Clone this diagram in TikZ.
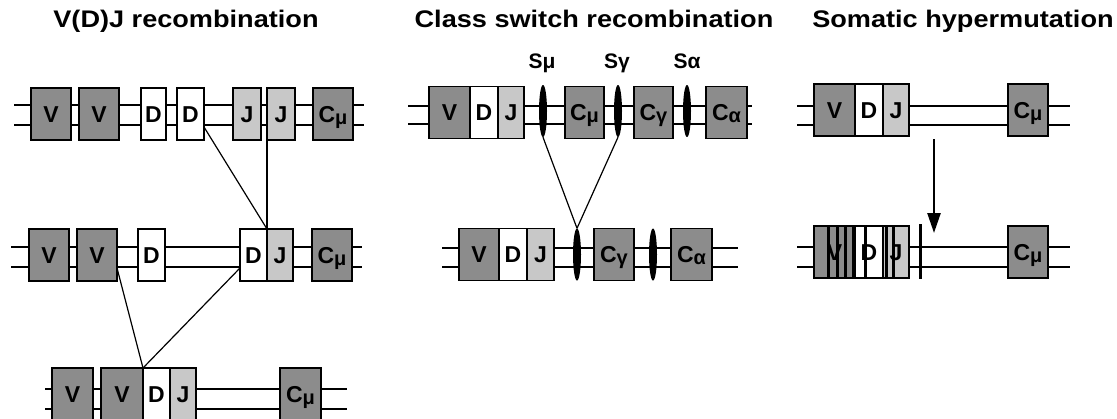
\documentclass[tikz,border=0pt]{standalone}
\usepackage{fontspec}
\setmainfont{Liberation Sans}
\usepackage{tikz}
\usetikzlibrary{positioning,arrows.meta,shapes.geometric}
\definecolor{SegDark}{RGB}{140,140,140}
\definecolor{SegLight}{RGB}{200,200,200}
\newcommand{\gsub}[1]{\raisebox{-2pt}{\fontsize{20}{20}\selectfont #1}}

\begin{document}
\begin{tikzpicture}[x=1pt,y=-1pt,
	seg/.style={draw=black,line width=1.6pt,minimum height=52pt,inner sep=0pt,outer sep=0pt,
		text height=16.5pt,text depth=0pt,font=\fontsize{23}{25}\selectfont\bfseries},
	vseg/.style={seg,fill=SegDark,minimum width=40pt},
	cseg/.style={seg,fill=SegDark,minimum width=40pt},
	dseg/.style={seg,fill=white,minimum width=27pt},
	jseg/.style={seg,fill=SegLight,minimum width=26pt},
	switch/.style={ellipse,fill=black,inner sep=0pt,minimum width=8pt,minimum height=52pt},
	dna/.style={line width=1.6pt},
	joint/.style={line width=1.2pt},
	title/.style={anchor=base,font=\fontsize{24}{26}\selectfont\bfseries},
	slabel/.style={anchor=base,font=\fontsize{21}{23}\selectfont\bfseries}
	]
	\useasboundingbox (0,0) rectangle (1117,418);
	
	% titles
	\node[title] (tvdj) at (186,27) {\scalebox{1.13}[1]{V(D)J recombination}};
	\node[title] (tcsr) at (594,27) {\scalebox{1.13}[1]{Class switch recombination}};
	\node[title] (tshm) at (963,27) {\scalebox{1.13}[1]{Somatic hypermutation}};
	
	% V(D)J recombination
	\draw[dna] (14,105) -- (364,105) (14,125) -- (364,125);
	\node[vseg] (v1a) at (51,114) {V};
	\node[vseg] (v1b) at (99,114) {V};
	\node[dseg,minimum width=25pt] (d1a) at (153.5,114) {D};
	\node[dseg] (d1b) at (190.5,114) {D};
	\node[jseg,minimum width=28pt] (j1a) at (247,114) {J};
	\node[jseg,minimum width=28pt] (j1b) at (281,114) {J};
	\node[cseg] (c1) at (333,114) {C\gsub{μ}};
	
	\draw[dna] (11,247) -- (362,247) (11,267) -- (362,267);
	\node[vseg] (v2a) at (49,255) {V};
	\node[vseg] (v2b) at (97,255) {V};
	\node[dseg] (d2a) at (151.5,255) {D};
	\node[dseg] (d2b) at (253.5,255) {D};
	\node[jseg] (j2) [right=0pt of d2b] {J};
	\node[cseg] (c2) at (332,255) {C\gsub{μ}};
	
	\draw[dna] (45,389) -- (347,389) (45,409) -- (347,409);
	\node[vseg,minimum width=41pt] (v3a) at (72.5,394) {V};
	\node[vseg,minimum width=42pt] (v3b) at (122,394) {V};
	\node[dseg] (d3) [right=0pt of v3b] {D};
	\node[jseg] (j3) [right=0pt of d3] {J};
	\node[cseg,minimum width=41pt] (c3) at (300.5,394) {C\gsub{μ}};
	
	\draw[joint] ([yshift=13pt]d1b.south east) -- (d2b.north east);
	\draw[joint] ([yshift=13pt]j1b.south west) -- (d2b.north east);
	\draw[joint] ([yshift=13pt]v2b.south east) -- (v3b.north east);
	\draw[joint] ([yshift=13pt]d2b.south west) -- (v3b.north east);
	
	% class switch recombination
	\node[slabel] (lsm) at (542,68) {Sμ};
	\node[slabel] (lsg) at (617,68) {Sγ};
	\node[slabel] (lsa) at (687,68) {Sα};
	
	\draw[dna] (408,106) -- (752,106) (408,124) -- (752,124);
	\node[vseg,minimum width=41pt] (cv1) at (449.5,112.5) {V};
	\node[dseg,minimum width=28pt] (cd1) [right=0pt of cv1] {D};
	\node[jseg] (cj1) [right=0pt of cd1] {J};
	\node[switch] (sm1) at (543,111) {};
	\node[cseg,minimum width=39pt] (cm1) at (584.5,112.5) {C\gsub{μ}};
	\node[switch] (sg1) at (618,111) {};
	\node[cseg,minimum width=39pt] (cg1) at (653.5,112.5) {C\gsub{γ}};
	\node[switch] (sa1) at (687,111) {};
	\node[cseg,minimum width=41pt] (ca1) at (726.5,112.5) {C\gsub{α}};
	
	\draw[dna] (442,248) -- (738,248) (442,267) -- (738,267);
	\node[vseg] (cv2) at (479,254.5) {V};
	\node[dseg,minimum width=28pt] (cd2) [right=0pt of cv2] {D};
	\node[jseg,minimum width=27pt] (cj2) [right=0pt of cd2] {J};
	\node[switch] (sw2) at (577,254.5) {};
	\node[cseg] (cg2) at (614,254.5) {C\gsub{γ}};
	\node[switch] (sa2) at (653,254.5) {};
	\node[cseg,minimum width=41pt] (ca2) at (691.5,254.5) {C\gsub{α}};
	
	\draw[joint] (sm1.south) -- (sw2.north);
	\draw[joint] (sg1.south) -- (sw2.north);
	
	% somatic hypermutation
	\draw[dna] (797,106) -- (1070,106) (797,125) -- (1070,125);
	\node[vseg,minimum width=41pt] (hv1) at (834.5,110) {V};
	\node[dseg,minimum width=28pt] (hd1) [right=0pt of hv1] {D};
	\node[jseg] (hj1) [right=0pt of hd1] {J};
	\node[cseg] (hc1) at (1028,110) {C\gsub{μ}};
	
	\coordinate (shmA) at (934,139);
	\coordinate (shmB) at (934,233);
	\draw[-{Triangle[length=20pt,width=13pt]},line width=2.5pt] (shmA) -- (shmB);
	
	\draw[dna] (797,247) -- (1070,247) (797,267) -- (1070,267);
	\node[vseg,minimum width=41pt] (hv2) at (834.5,252) {V};
	\node[dseg,minimum width=28pt] (hd2) [right=0pt of hv2] {D};
	\node[jseg] (hj2) [right=0pt of hd2] {J};
	\node[cseg] (hc2) at (1028,252) {C\gsub{μ}};
	\foreach \bx in {828,837,845,853,865,886,893}
	\fill (\bx-1.5,226) rectangle (\bx+1.5,278);
	\fill (918.5,224) rectangle (921.5,279);
	
\end{tikzpicture}
\end{document}
